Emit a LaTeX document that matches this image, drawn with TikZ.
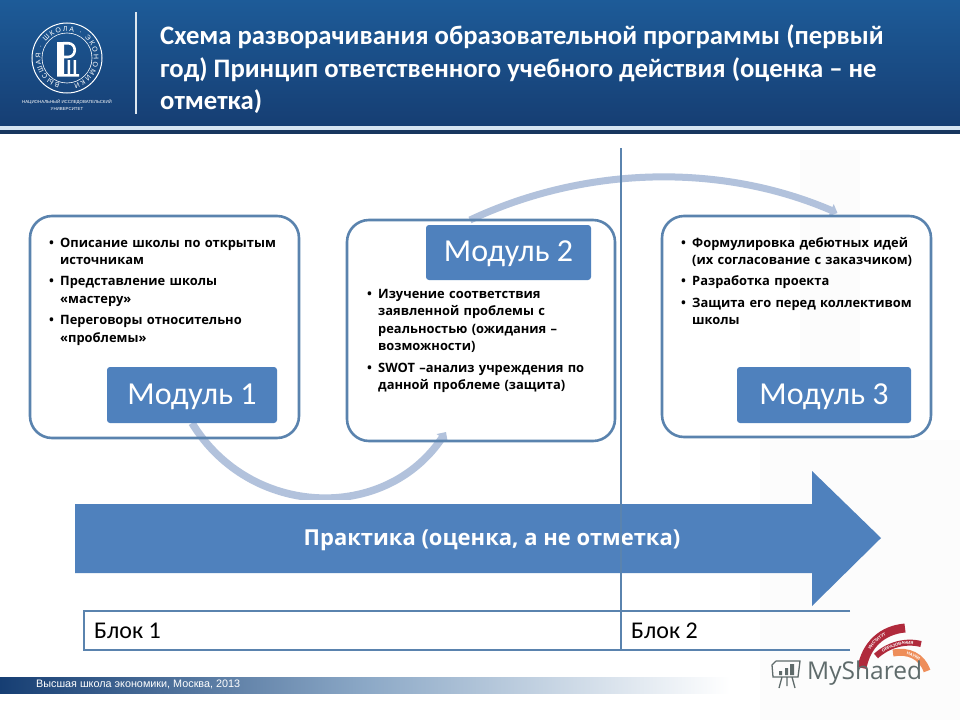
\documentclass[tikz,border=0pt]{standalone}
\usepackage{fontspec}
\setmainfont{Carlito}
\newfontfamily\bodyfont{Open Sans}
\newfontfamily\footfont{Liberation Sans}
\usetikzlibrary{arrows.meta,decorations.text}
\pgfdeclarelayer{base}
\pgfdeclarelayer{arcs}
\pgfsetlayers{base,arcs,main}
\definecolor{hseNavy}{HTML}{163E73}
\definecolor{hseTop}{HTML}{1D5B98}
\definecolor{hseDark}{HTML}{17365F}
\definecolor{hseStripe}{HTML}{D5E4F2}
\definecolor{modBlue}{HTML}{4F81BD}
\definecolor{modEdge}{HTML}{5A83AE}
\definecolor{arcBlue}{HTML}{B2C2DC}
\definecolor{logoRed}{HTML}{B02A3C}
\definecolor{logoOrange}{HTML}{EE8E5A}
\definecolor{logoGrey}{HTML}{5F6B6B}
\newcommand{\itm}[1]{\noindent\makebox[12pt][l]{\hspace{1pt}•}\parbox[t]{230pt}{\raggedright\strut #1\strut}\par\prevdepth=\dp\strutbox\vskip3.6pt}
\begin{document}
\begin{tikzpicture}[x=1pt,y=-1pt,
  modbox/.style={draw=modEdge, line width=2.6pt, rounded corners=22pt, anchor=north west, inner sep=0pt, outer sep=0pt},
  modtag/.style={fill=modBlue, rounded corners=3pt, text=white, font=\fontsize{32}{34}\selectfont,
                 anchor=north west, inner sep=0pt, outer sep=0pt, text height=26pt, text depth=7.4pt},
  modtext/.style={font=\bodyfont\bfseries\fontsize{12.9}{17.6}\selectfont, text=black, anchor=north west,
                  inner sep=0pt, text width=250pt},
  curve/.style={draw=arcBlue, line width=7.5pt, -{Triangle[length=7pt,width=13pt]}},
  blocktext/.style={font=\fontsize{24}{26}\selectfont, anchor=west, inner sep=0pt, text=black},
  rule/.style={draw=modEdge, line width=2.8pt},
  ringtext/.style={decorate, decoration={text along path, text align={fit to path},
      text={|\footfont\fontsize{#1}{8}\selectfont\color{white}|ВЫСШАЯ · ШКОЛА · ЭКОНОМИКИ}}},
  arctext/.style={decorate, decoration={text along path, text align=center, raise=-1.5pt,
      text={|\footfont\bfseries\fontsize{4.2}{5}\selectfont\color{white}|#1}}}
]
\useasboundingbox (0,0) rectangle (960,720);
\begin{pgfonlayer}{base}
\fill[white] (0,0) rectangle (960,720);
% faint watermark
\fill[black!1] (760,440) rectangle (960,720);
\fill[black!1] (800,150) rectangle (860,440);
\end{pgfonlayer}
% header
\shade[top color=hseTop, bottom color=hseNavy] (0,0) rectangle (960,126);
\fill[hseStripe] (0,126) rectangle (960,130);
\fill[hseDark] (0,130) rectangle (960,134);
\draw[white!85!hseTop, line width=2pt] (136,12) -- (136,114);
% logo
\node[circle, draw=white, line width=1pt, minimum size=70pt, inner sep=0pt] (seal) at (67,58) {};
\node[circle, draw=white, line width=.6pt, minimum size=50pt, inner sep=0pt] (sealIn) at (67,58) {};
\path[ringtext=7] (seal.center) ++(255:26.6pt) arc[start angle=255, end angle=-75, radius=26.6pt];
\fill[white] (57,42) rectangle (64,76) (57,74) rectangle (79,76.5) (67.5,60) rectangle (70,75) (73.5,60) rectangle (76,75);
\draw[white, line width=2.6pt] (63,43.2) -- (68,43.2) .. controls (77,43.2) and (77,57) .. (68,57) -- (63,57);
\node[text=white, font=\footfont\fontsize{4.4}{6.4}\selectfont, align=center, inner sep=0pt] (hseName) at (67,105)
  {НАЦИОНАЛЬНЫЙ ИССЛЕДОВАТЕЛЬСКИЙ\\УНИВЕРСИТЕТ};
\node[text=white, font=\bfseries\fontsize{26.7}{32.5}\selectfont, anchor=north west, inner sep=0pt, align=left] (title) at (160,24.5)
  {Схема разворачивания образовательной программы (первый\\
   год) Принцип ответственного учебного действия (оценка – не\\
   отметка)};
% modules
\node[modtag, minimum width=170pt, minimum height=56pt] (tagA) at (107,367) {Модуль 1};
\node[modtag, minimum width=165pt, minimum height=55pt] (tagB) at (426,225) {Модуль 2};
\node[modtag, minimum width=174pt, minimum height=56pt] (tagC) at (737,367) {Модуль 3};
\node[modbox, minimum width=269pt, minimum height=222pt] (boxA) at (30,216) {};
\node[modbox, minimum width=268pt, minimum height=221pt] (boxB) at (347,220) {};
\node[modbox, minimum width=269pt, minimum height=221pt] (boxC) at (662,216) {};
\begin{pgfonlayer}{arcs}
\draw[curve] (tagA.south) .. controls (250,518) and (385,523) .. ([xshift=-35pt,yshift=9pt]boxB.south);
\draw[curve, line width=7pt] ([xshift=-11pt]boxB.north) .. controls (586,165.5) and (721,163) .. ([xshift=41pt,yshift=3pt]boxC.north);
\end{pgfonlayer}
\fill[white] (240,500) rectangle (400,504);
\node[modtext] (txtA) at (48,234.5) {%
  \itm{Описание школы по открытым\\источникам}
  \itm{Представление школы\\«мастеру»}
  \itm{Переговоры относительно\\«проблемы»}};
\node[modtext] (txtB) at (366,285.5) {%
  \itm{Изучение соответствия\\заявленной проблемы с\\реальностью (ожидания –\\возможности)}
  \itm{SWOT –анализ учреждения по\\данной проблеме  (защита)}};
\node[modtext] (txtC) at (680,234.5) {%
  \itm{Формулировка дебютных идей\\(их согласование с заказчиком)}
  \itm{Разработка проекта}
  \itm{Защита его перед коллективом\\школы}};
% practice arrow
\fill[modBlue] (75,504) -- (812,504) -- (812,471) -- (881,538) -- (812,606) -- (812,573) -- (75,573) -- cycle;
\node[text=white, font=\bodyfont\bfseries\fontsize{22}{24}\selectfont, inner sep=0pt] (practice) at (492,540.5)
  {Практика (оценка, а не отметка)};
% blocks
\coordinate (splitTop) at (621,148);
\coordinate (splitEnd) at (621,650);
\draw[rule] (850,611) -- (84,611) -- (84,650) -- (850,650);
\draw[rule] (splitTop) -- (splitEnd);
\node[blocktext] (blockA) at (94,631) {Блок 1};
\node[blocktext] (blockB) at (631,631) {Блок 2};
% footer
\shade[left color=hseNavy, right color=white, middle color=modEdge!70] (0,677) rectangle (730,693);
\node[text=white, font=\footfont\fontsize{10.8}{12}\selectfont, anchor=west, inner sep=0pt] (footer) at (36,684.5)
  {Высшая школа экономики, Москва, 2013};
% site logo
\draw[logoRed, line width=9pt] (862,668) .. controls (866,645) and (882,630) .. (905,628);
\draw[logoRed, line width=6pt] (876,656) .. controls (888,645) and (905,640) .. (921,644);
\draw[logoOrange, line width=7pt] (893,653) .. controls (908,650) and (922,656) .. (927,671);
\path[arctext=ИНСТИТУТ] (862,668) .. controls (866,645) and (882,630) .. (905,628);
\path[arctext=ОБРАЗОВАНИЯ] (876,656) .. controls (888,645) and (905,640) .. (921,644);
\path[arctext=НАУКИ] (893,653) .. controls (908,650) and (922,656) .. (927,671);
\node[text=logoGrey, font=\bodyfont\fontsize{24.5}{25}\selectfont, anchor=west, inner sep=0pt] (myshared) at (807,673) {MyShared};
\draw[logoGrey, line width=1.3pt] (776,661) -- (800,661) -- (798,677) -- (773,677) -- (772,665) -- (776,661)
  (782,677) -- (779,688) (792,677) -- (795,688) (787,677) -- (787,686);
\fill[logoGrey] (779,671) rectangle (782,675) (785,668) rectangle (788,675) (790,664) rectangle (794,675);
\end{tikzpicture}
\end{document}
